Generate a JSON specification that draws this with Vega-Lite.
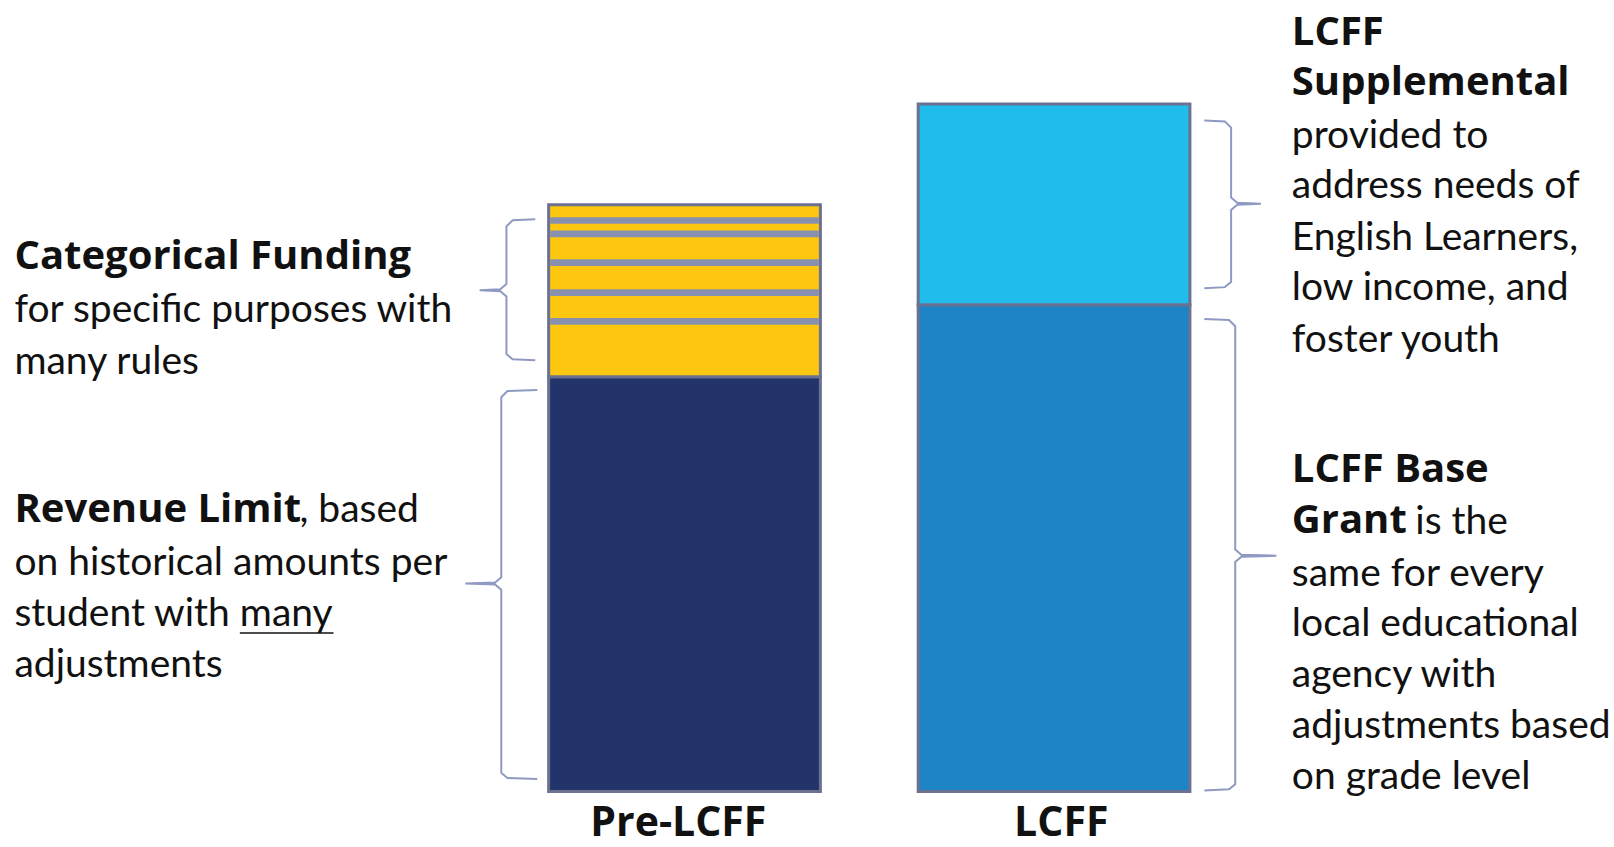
{
  "$schema": "https://vega.github.io/schema/vega-lite/v6.json",
  "autosize": {"type": "fit", "contains": "padding"},
  "width": 1614,
  "height": 847,
  "padding": 0,
  "background": "white",
  "config": {"view": {"stroke": null}},
  "datasets": {
    "segments": [
      {"bar": "Pre-LCFF", "part": "Revenue Limit", "x0": 53.3, "x1": 79.7, "y0": 0, "y1": 40.3},
      {"bar": "Pre-LCFF", "part": "Categorical Funding", "x0": 53.3, "x1": 79.7, "y0": 40.3, "y1": 57.0},
      {"bar": "LCFF", "part": "LCFF Base Grant", "x0": 89.2, "x1": 115.6, "y0": 0, "y1": 47.3},
      {"bar": "LCFF", "part": "LCFF Supplemental", "x0": 89.2, "x1": 115.6, "y0": 47.3, "y1": 66.8}
    ],
    "stripes": [
      {"part": "Categorical divider", "x0": 53.45, "x1": 79.55, "y0": 55.15, "y1": 55.8},
      {"part": "Categorical divider", "x0": 53.45, "x1": 79.55, "y0": 53.85, "y1": 54.5},
      {"part": "Categorical divider", "x0": 53.45, "x1": 79.55, "y0": 51.05, "y1": 51.7},
      {"part": "Categorical divider", "x0": 53.45, "x1": 79.55, "y0": 48.15, "y1": 48.8},
      {"part": "Categorical divider", "x0": 53.45, "x1": 79.55, "y0": 45.35, "y1": 46.0}
    ],
    "braces": [
      {"brace": "cat", "i": 0, "x": 52.0, "y": 55.6},
      {"brace": "cat", "i": 1, "x": 49.8, "y": 55.5},
      {"brace": "cat", "i": 2, "x": 49.2, "y": 54.9},
      {"brace": "cat", "i": 3, "x": 49.2, "y": 49.3},
      {"brace": "cat", "i": 4, "x": 48.6, "y": 48.8},
      {"brace": "cat", "i": 5, "x": 46.6, "y": 48.7},
      {"brace": "cat", "i": 6, "x": 48.6, "y": 48.6},
      {"brace": "cat", "i": 7, "x": 49.2, "y": 48.1},
      {"brace": "cat", "i": 8, "x": 49.2, "y": 42.5},
      {"brace": "cat", "i": 9, "x": 49.8, "y": 42.0},
      {"brace": "cat", "i": 10, "x": 52.0, "y": 41.9},
      {"brace": "rev", "i": 0, "x": 52.2, "y": 39.0},
      {"brace": "rev", "i": 1, "x": 49.3, "y": 38.9},
      {"brace": "rev", "i": 2, "x": 48.7, "y": 38.3},
      {"brace": "rev", "i": 3, "x": 48.7, "y": 20.8},
      {"brace": "rev", "i": 4, "x": 48.1, "y": 20.3},
      {"brace": "rev", "i": 5, "x": 45.2, "y": 20.2},
      {"brace": "rev", "i": 6, "x": 48.1, "y": 20.1},
      {"brace": "rev", "i": 7, "x": 48.7, "y": 19.6},
      {"brace": "rev", "i": 8, "x": 48.7, "y": 1.8},
      {"brace": "rev", "i": 9, "x": 49.3, "y": 1.3},
      {"brace": "rev", "i": 10, "x": 52.2, "y": 1.2},
      {"brace": "sup", "i": 0, "x": 117.0, "y": 65.2},
      {"brace": "sup", "i": 1, "x": 119.0, "y": 65.1},
      {"brace": "sup", "i": 2, "x": 119.6, "y": 64.5},
      {"brace": "sup", "i": 3, "x": 119.6, "y": 57.7},
      {"brace": "sup", "i": 4, "x": 120.2, "y": 57.2},
      {"brace": "sup", "i": 5, "x": 122.5, "y": 57.1},
      {"brace": "sup", "i": 6, "x": 120.2, "y": 57.0},
      {"brace": "sup", "i": 7, "x": 119.6, "y": 56.5},
      {"brace": "sup", "i": 8, "x": 119.6, "y": 49.5},
      {"brace": "sup", "i": 9, "x": 119.0, "y": 49.0},
      {"brace": "sup", "i": 10, "x": 117.0, "y": 48.9},
      {"brace": "base", "i": 0, "x": 117.0, "y": 45.9},
      {"brace": "base", "i": 1, "x": 119.4, "y": 45.8},
      {"brace": "base", "i": 2, "x": 120.0, "y": 45.2},
      {"brace": "base", "i": 3, "x": 120.0, "y": 23.5},
      {"brace": "base", "i": 4, "x": 120.6, "y": 23.0},
      {"brace": "base", "i": 5, "x": 124.0, "y": 22.9},
      {"brace": "base", "i": 6, "x": 120.6, "y": 22.8},
      {"brace": "base", "i": 7, "x": 120.0, "y": 22.3},
      {"brace": "base", "i": 8, "x": 120.0, "y": 0.7},
      {"brace": "base", "i": 9, "x": 119.4, "y": 0.2},
      {"brace": "base", "i": 10, "x": 117.0, "y": 0.1}
    ],
    "notes": [
      {"role": "heading", "x": 1.4, "y": 51.9, "text": "Categorical Funding"},
      {"role": "body", "x": 1.4, "y": 46.8, "text": "for specific purposes with"},
      {"role": "body", "x": 1.4, "y": 41.7, "text": "many rules"},
      {"role": "heading", "x": 1.4, "y": 27.3, "text": "Revenue Limit"},
      {"role": "body", "x": 29.1, "y": 27.3, "text": ", based"},
      {"role": "body", "x": 1.4, "y": 22.2, "text": "on historical amounts per"},
      {"role": "body", "x": 1.4, "y": 17.2, "text": "student with many"},
      {"role": "body", "x": 1.4, "y": 12.3, "text": "adjustments"},
      {"role": "heading", "x": 125.5, "y": 73.7, "text": "LCFF"},
      {"role": "heading", "x": 125.5, "y": 68.8, "text": "Supplemental"},
      {"role": "body", "x": 125.5, "y": 63.7, "text": "provided to"},
      {"role": "body", "x": 125.5, "y": 58.8, "text": "address needs of"},
      {"role": "body", "x": 125.5, "y": 53.8, "text": "English Learners,"},
      {"role": "body", "x": 125.5, "y": 48.9, "text": "low income, and"},
      {"role": "body", "x": 125.5, "y": 43.9, "text": "foster youth"},
      {"role": "heading", "x": 125.5, "y": 31.2, "text": "LCFF Base"},
      {"role": "heading", "x": 125.5, "y": 26.3, "text": "Grant"},
      {"role": "body", "x": 137.5, "y": 26.2, "text": "is the"},
      {"role": "body", "x": 125.5, "y": 21.1, "text": "same for every"},
      {"role": "body", "x": 125.5, "y": 16.3, "text": "local educational"},
      {"role": "body", "x": 125.5, "y": 11.3, "text": "agency with"},
      {"role": "body", "x": 125.5, "y": 6.4, "text": "adjustments based"},
      {"role": "body", "x": 125.5, "y": 1.4, "text": "on grade level"},
      {"role": "label", "x": 65.9, "y": -4.3, "text": "Pre-LCFF"},
      {"role": "label", "x": 103.1, "y": -4.3, "text": "LCFF"}
    ],
    "underline": [
      {"word": "many", "x0": 23.3, "x1": 32.4, "y": 15.4}
    ]
  },
  "layer": [
    {
      "data": {"name": "segments"},
      "mark": {"type": "rect", "stroke": "#6b7291", "strokeWidth": 3},
      "encoding": {
        "x": {"field": "x0", "type": "quantitative", "scale": {"domain": [0, 156.8], "nice": false, "zero": false}, "axis": null},
        "x2": {"field": "x1"},
        "y": {"field": "y0", "type": "quantitative", "scale": {"domain": [-5.4, 76.9], "nice": false, "zero": false}, "axis": null},
        "y2": {"field": "y1"},
        "color": {
          "field": "part", "type": "nominal", "legend": null,
          "scale": {
            "domain": ["Revenue Limit", "Categorical Funding", "Categorical divider", "LCFF Base Grant", "LCFF Supplemental"],
            "range": ["#22346a", "#fdc70f", "#8890b0", "#1e84c6", "#20bcec"]
          }
        }
      }
    },
    {
      "data": {"name": "stripes"},
      "mark": {"type": "rect"},
      "encoding": {
        "x": {"field": "x0", "type": "quantitative"},
        "x2": {"field": "x1"},
        "y": {"field": "y0", "type": "quantitative"},
        "y2": {"field": "y1"},
        "color": {"field": "part", "type": "nominal", "legend": null}
      }
    },
    {
      "data": {"name": "braces"},
      "mark": {"type": "line", "stroke": "#8f99c2", "strokeWidth": 2, "interpolate": "linear"},
      "encoding": {
        "x": {"field": "x", "type": "quantitative"},
        "y": {"field": "y", "type": "quantitative"},
        "detail": {"field": "brace", "type": "nominal"},
        "order": {"field": "i", "type": "quantitative"}
      }
    },
    {
      "data": {"name": "notes"},
      "transform": [{"filter": "datum.role === 'heading'"}],
      "mark": {"type": "text", "align": "left", "baseline": "middle", "font": "Open Sans", "fontSize": 40, "fontWeight": "bold", "color": "#111111"},
      "encoding": {
        "x": {"field": "x", "type": "quantitative"},
        "y": {"field": "y", "type": "quantitative"},
        "text": {"field": "text"}
      }
    },
    {
      "data": {"name": "notes"},
      "transform": [{"filter": "datum.role === 'body'"}],
      "mark": {"type": "text", "align": "left", "baseline": "middle", "font": "Lato", "fontSize": 39, "color": "#111111"},
      "encoding": {
        "x": {"field": "x", "type": "quantitative"},
        "y": {"field": "y", "type": "quantitative"},
        "text": {"field": "text"}
      }
    },
    {
      "data": {"name": "notes"},
      "transform": [{"filter": "datum.role === 'label'"}],
      "mark": {"type": "text", "align": "center", "baseline": "alphabetic", "font": "Open Sans", "fontSize": 41, "fontWeight": "bold", "color": "#111111"},
      "encoding": {
        "x": {"field": "x", "type": "quantitative"},
        "y": {"field": "y", "type": "quantitative"},
        "text": {"field": "text"}
      }
    },
    {
      "data": {"name": "underline"},
      "mark": {"type": "rule", "color": "#111111", "strokeWidth": 1.5},
      "encoding": {
        "x": {"field": "x0", "type": "quantitative"},
        "x2": {"field": "x1"},
        "y": {"field": "y", "type": "quantitative"}
      }
    }
  ]
}
